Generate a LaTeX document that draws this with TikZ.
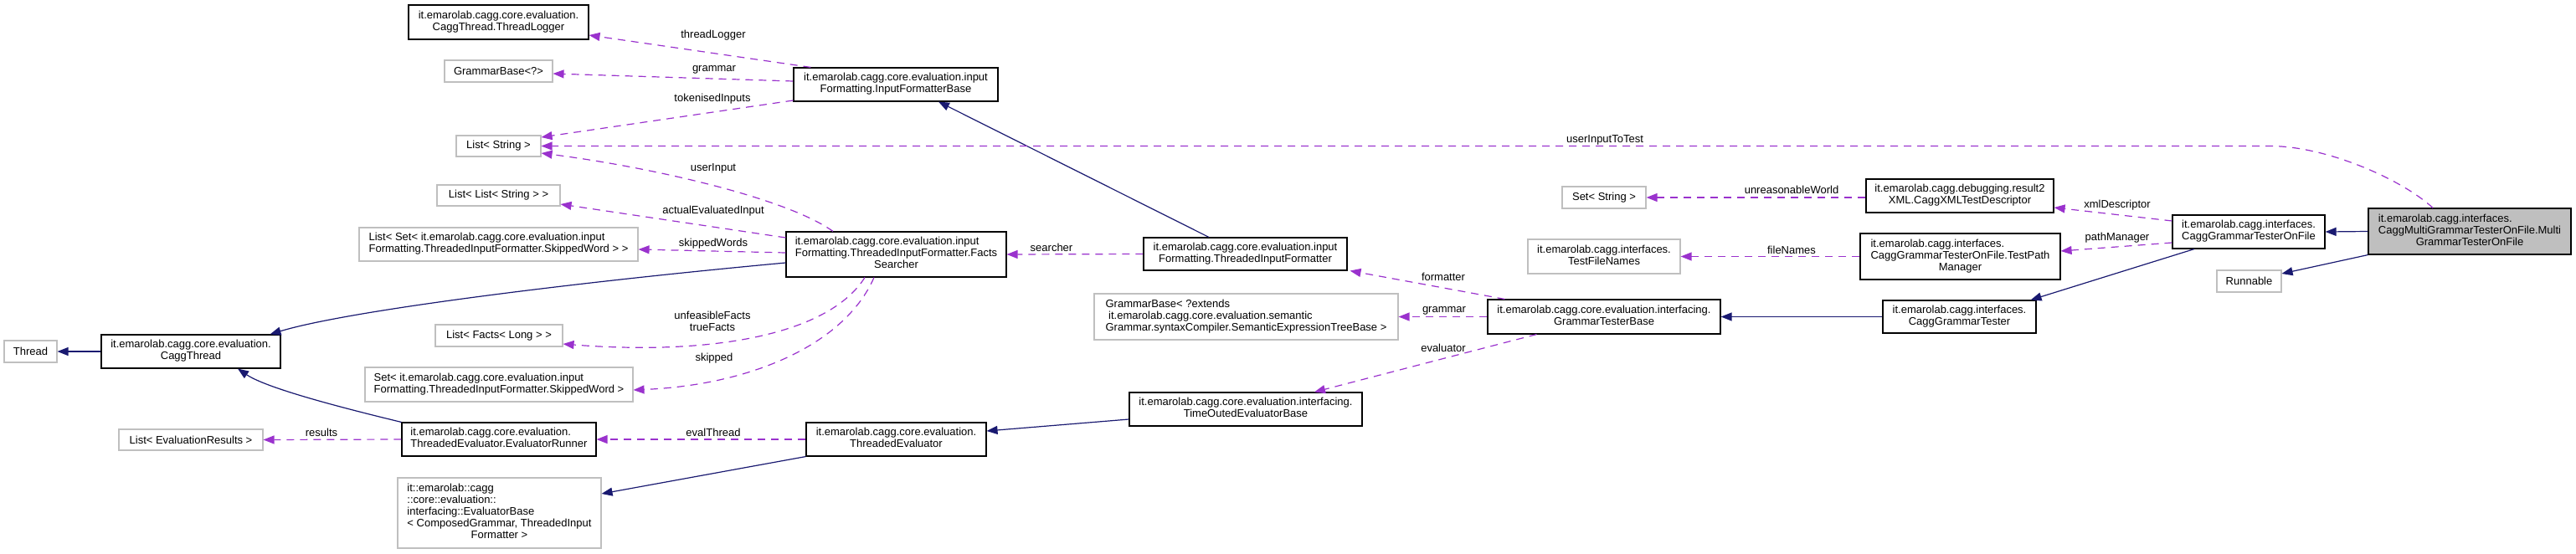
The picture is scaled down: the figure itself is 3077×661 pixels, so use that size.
\documentclass[tikz,border=0pt]{standalone}
\usepackage{fontspec}
\setmainfont{Liberation Sans}
\usetikzlibrary{arrows.meta,positioning}
\definecolor{inhblue}{HTML}{191970}
\definecolor{usepurple}{HTML}{9A32CD}
\definecolor{extgray}{HTML}{BFBFBF}
\newcommand{\clsname}[2]{\begin{tabular}{@{}l@{}}#1\\\multicolumn{1}{@{}c@{}}{#2}\end{tabular}}
\tikzset{
  clsbox/.style={rectangle, draw=black, line width=1.1pt, inner sep=0pt, fill=white},
  extbox/.style={clsbox, draw=extgray},
  focusbox/.style={clsbox, fill=extgray},
  inherit/.style={draw=inhblue, line width=1.2pt, -{Triangle[length=13pt,width=10pt]}},
  usage/.style={draw=usepurple, line width=1.2pt, dash pattern=on 9pt off 7pt, -{Triangle[length=13pt,width=10pt]}},
  elabel/.style={inner sep=0pt, align=center}
}
\begin{document}
\begin{tikzpicture}[x=1pt, y=-1pt, every node/.style={font=\fontsize{13}{14}\selectfont}]
\useasboundingbox (0,0) rectangle (3077,661);

\node[clsbox, minimum width=215pt, minimum height=41pt] (logger) at (595.5,26.5) {\clsname{it.emarolab.cagg.core.evaluation.}{CaggThread.ThreadLogger}};
\node[extbox, minimum width=129pt, minimum height=26pt] (gbase) at (595.5,85) {GrammarBase<?>};
\node[extbox, minimum width=101pt, minimum height=25pt] (lstr) at (595.5,174.5) {List< String >};
\node[extbox, minimum width=147pt, minimum height=25pt] (llstr) at (595.5,233.5) {List< List< String > >};
\node[extbox, minimum width=333pt, minimum height=40pt] (lset) at (595.5,292) {\clsname{List< Set< it.emarolab.cagg.core.evaluation.input}{Formatting.ThreadedInputFormatter.SkippedWord > >}};
\node[extbox, minimum width=152pt, minimum height=26pt] (lfacts) at (596,401) {List< Facts< Long > >};
\node[extbox, minimum width=320pt, minimum height=41pt] (sset) at (596,459.5) {\clsname{Set< it.emarolab.cagg.core.evaluation.input}{Formatting.ThreadedInputFormatter.SkippedWord >}};
\node[clsbox, minimum width=232pt, minimum height=40pt] (runner) at (596,525) {\clsname{it.emarolab.cagg.core.evaluation.}{ThreadedEvaluator.EvaluatorRunner}};
\node[extbox, minimum width=243pt, minimum height=84pt] (evbase) at (596.5,613) {\clsname{it::emarolab::cagg\\::core::evaluation::\\interfacing::EvaluatorBase\\< ComposedGrammar, ThreadedInput}{Formatter >}};

\node[extbox, minimum width=63pt, minimum height=26pt] (thread) at (36.5,420) {Thread};
\node[clsbox, minimum width=214pt, minimum height=40pt] (cthread) at (228,420) {\clsname{it.emarolab.cagg.core.evaluation.}{CaggThread}};
\node[extbox, minimum width=172pt, minimum height=25pt] (lres) at (228,525.5) {List< EvaluationResults >};

\node[clsbox, minimum width=244pt, minimum height=40pt] (ifbase) at (1070,101) {\clsname{it.emarolab.cagg.core.evaluation.input}{Formatting.InputFormatterBase}};
\node[clsbox, minimum width=263pt, minimum height=54pt] (facts) at (1070.5,304) {\clsname{it.emarolab.cagg.core.evaluation.input\\Formatting.ThreadedInputFormatter.Facts}{Searcher}};
\node[clsbox, minimum width=215pt, minimum height=40pt] (teval) at (1070.5,525) {\clsname{it.emarolab.cagg.core.evaluation.}{ThreadedEvaluator}};

\node[clsbox, minimum width=243pt, minimum height=39pt] (tif) at (1487.5,303.5) {\clsname{it.emarolab.cagg.core.evaluation.input}{Formatting.ThreadedInputFormatter}};
\node[extbox, minimum width=363pt, minimum height=55pt] (gbext) at (1488.5,378.5) {\clsname{GrammarBase< ?extends\\\ it.emarolab.cagg.core.evaluation.semantic}{Grammar.syntaxCompiler.SemanticExpressionTreeBase >}};
\node[clsbox, minimum width=278pt, minimum height=40pt] (toeval) at (1488,489) {\clsname{it.emarolab.cagg.core.evaluation.interfacing.}{TimeOutedEvaluatorBase}};

\node[extbox, minimum width=100pt, minimum height=26pt] (sstr) at (1916,236) {Set< String >};
\node[extbox, minimum width=182pt, minimum height=41pt] (tfn) at (1916,306.5) {\clsname{it.emarolab.cagg.interfaces.}{TestFileNames}};
\node[clsbox, minimum width=278pt, minimum height=41pt] (gtbase) at (1916,378.5) {\clsname{it.emarolab.cagg.core.evaluation.interfacing.}{GrammarTesterBase}};

\node[clsbox, minimum width=224pt, minimum height=40pt] (xmld) at (2341,234) {\clsname{it.emarolab.cagg.debugging.result2}{XML.CaggXMLTestDescriptor}};
\node[clsbox, minimum width=239pt, minimum height=55pt] (tpm) at (2341.5,306.5) {\clsname{it.emarolab.cagg.interfaces.\\CaggGrammarTesterOnFile.TestPath}{Manager}};
\node[clsbox, minimum width=183pt, minimum height=39pt] (ctester) at (2340.5,378.5) {\clsname{it.emarolab.cagg.interfaces.}{CaggGrammarTester}};

\node[clsbox, minimum width=182pt, minimum height=40pt] (ctof) at (2686,277) {\clsname{it.emarolab.cagg.interfaces.}{CaggGrammarTesterOnFile}};
\node[extbox, minimum width=77pt, minimum height=26pt] (runnable) at (2686.5,336) {Runnable};
\node[focusbox, minimum width=242pt, minimum height=55pt] (multi) at (2950,276.5) {\clsname{it.emarolab.cagg.interfaces.\\CaggMultiGrammarTesterOnFile.Multi}{GrammarTesterOnFile}};

\draw[inherit] (cthread.west) -- (thread.east);
\draw[inherit] ([yshift=-10pt]facts.west) .. controls (700,336) and (420,370) .. ([xshift=-13pt]cthread.north east);
\draw[inherit] (runner.north west) .. controls (420,490) and (320,465) .. ([xshift=56pt]cthread.south);
\draw[inherit] ([xshift=-43.5pt]tif.north) -- ([xshift=51pt]ifbase.south);
\draw[inherit] ([yshift=-12pt]toeval.west) -- ([yshift=10pt]teval.east);
\draw[inherit] (teval.south west) -- ([yshift=23pt]evbase.east);
\draw[inherit] (ctester.west) -- (gtbase.east);
\draw[inherit] ([xshift=-65pt]ctof.south) -- ([xshift=-7pt]ctester.north east);
\draw[inherit] (multi.west) -- (ctof.east);
\draw[inherit] (multi.south west) -- ([yshift=9pt]runnable.east);

\draw[usage] ([xshift=21pt]ifbase.north west) -- ([yshift=-15.5pt]logger.east);
\draw[usage] ([yshift=4pt]ifbase.west) -- ([yshift=-3pt]gbase.east);
\draw[usage] ([yshift=-19pt]ifbase.west) -- ([yshift=10.5pt]lstr.east);
\draw[usage] ([xshift=-44pt]multi.north) .. controls (2870,215) and (2780,174.5) .. (2711,174.5) -- (lstr.east);
\draw[usage] ([xshift=-75.5pt]facts.north) .. controls (940,237) and (780,200) .. ([yshift=-8.5pt]lstr.east);
\draw[usage] ([yshift=20pt]facts.west) -- ([yshift=-10.5pt]llstr.east);
\draw[usage] ([yshift=2pt]facts.west) -- ([yshift=-6pt]lset.east);
\draw[usage] ([xshift=-37.5pt]facts.south) .. controls (990,400) and (850,425) .. ([yshift=-10pt]lfacts.east);
\draw[usage] ([xshift=-26.5pt]facts.south) .. controls (1010,410) and (900,460) .. ([yshift=-6.5pt]sset.east);
\draw[usage] (tif.west) -- (facts.east);
\draw[usage] ([xshift=21pt]gtbase.north west) -- ([xshift=3pt]tif.south east);
\draw[usage] (gtbase.west) -- (gbext.east);
\draw[usage] ([xshift=59pt]gtbase.south west) -- ([xshift=82pt]toeval.north);
\draw[usage] (teval.west) -- (runner.east);
\draw[usage] (runner.west) -- (lres.east);
\draw[usage] ([yshift=-2pt]xmld.west) -- (sstr.east);
\draw[usage] ([yshift=13pt]ctof.west) -- ([yshift=-14pt]xmld.east);
\draw[usage] ([yshift=-13pt]ctof.west) -- ([yshift=6.5pt]tpm.east);
\draw[usage] (tpm.west) -- (tfn.east);

\node[elabel] (lthreadlogger) at (852,42) {threadLogger};
\node[elabel] (lgrammar) at (853,83) {grammar};
\node[elabel] (ltokenised) at (851,118) {tokenisedInputs};
\node[elabel] (luserinputtotest) at (1917,167) {userInputToTest};
\node[elabel] (luserinput) at (852,201) {userInput};
\node[elabel] (lactual) at (852,252) {actualEvaluatedInput};
\node[elabel] (lskippedwords) at (852,291) {skippedWords};
\node[elabel] (lfactsnames) at (851,383.5) {unfeasibleFacts\\trueFacts};
\node[elabel] (lskipped) at (853,428) {skipped};
\node[elabel] (lresults) at (384,517) {results};
\node[elabel] (levalthread) at (852,517) {evalThread};
\node[elabel] (lsearcher) at (1256,296) {searcher};
\node[elabel] (lformatter) at (1724,331) {formatter};
\node[elabel] (lgrammartwo) at (1725,371) {grammar};
\node[elabel] (levaluator) at (1724,416) {evaluator};
\node[elabel] (lunreasonable) at (2140,227) {unreasonableWorld};
\node[elabel] (lxmldescriptor) at (2529,245) {xmlDescriptor};
\node[elabel] (lpathmanager) at (2529,284) {pathManager};
\node[elabel] (lfilenames) at (2140,299) {fileNames};
\end{tikzpicture}
\end{document}
